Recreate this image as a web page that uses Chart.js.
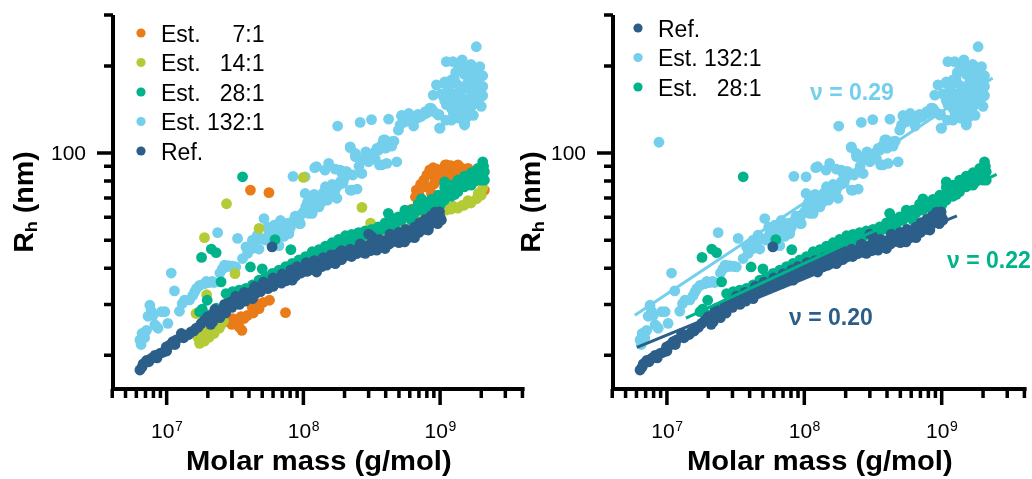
<!DOCTYPE html>
<html>
<head>
<meta charset="utf-8">
<script src="https://cdn.jsdelivr.net/npm/chart.js@4.4.1/dist/chart.umd.min.js"></script>
<style>
  body { margin: 0; background: #fff; }
  #wrap { position: relative; width: 1032px; height: 479px; overflow: hidden; }
  canvas { position: absolute; top: 0; }
</style>
</head>
<body>
<div id="wrap">
  <canvas id="leftChart" width="530" height="479" style="left:0"></canvas>
  <canvas id="rightChart" width="516" height="479" style="left:516px"></canvas>
</div>
<script>
// Data: [molar mass (g/mol), Rh (nm)]
const refData = [
  [6.37e6,17.8],[6.73e6,18.7],[7.12e6,19.2],[7.7e6,19.5],[8.2e6,20.0],[8.9e6,20.3],[9.4e6,20.5],[9.94e6,21.4],
  [1.05e7,21.7],[1.11e7,22.3],[1.175e7,22.6],[1.28e7,23.8],[1.39e7,23.5],[1.51e7,24.1],[1.64e7,24.8],[1.79e7,25.8],
  [1.89e7,26.4],[2.0e7,27.2],[2.17e7,27.5],[2.36e7,27.9],[2.57e7,28.6],[2.8e7,30.2],[2.95e7,30.6],[3.12e7,31.0],
  [3.3e7,30.6],[3.59e7,31.4],[3.9e7,32.3],[4.24e7,33.2],[4.6e7,33.6],[5.02e7,34.5],[5.3e7,35.0],[5.77e7,35.4],
  [6.27e7,35.9],[6.63e7,36.8],[7.2e7,37.3],[7.84e7,37.8],[8.5e7,38.8],[9.27e7,39.4],[1.02e8,40.4],[1.1e8,39.4],
  [1.22e8,41.0],[1.3e8,41.5],[1.42e8,42.1],[1.53e8,42.6],[1.67e8,43.2],[1.81e8,45.0],[1.97e8,43.8],[2.14e8,45.0],
  [2.33e8,45.6],[2.53e8,46.8],[2.75e8,47.4],[2.99e8,48.0],[3.17e8,51.4],[3.44e8,46.2],[3.74e8,48.7],[4.07e8,50.0],
  [4.42e8,51.4],[4.81e8,50.7],[5.23e8,52.0],[5.69e8,52.7],[6.18e8,52.7],[6.72e8,54.2],[7.31e8,55.6],[7.95e8,57.1],
  [8.65e8,57.9],[9.4e8,60.2],[9.9e8,62.6],[1.022e9,58.7],[5.9e7,47.4],[1.71e8,41.5],[2.83e8,45.0],[3.96e8,46.8],
  [5.5e8,49.3],[8.2e8,54.2],[1.25e8,38.8],[8.3e7,36.4],[4.24e7,31.4],[2.17e7,26.1],[1.0e9,60.0],[6.5e8,51.0],[7.7e8,54.5],
  [2.1e7,25.6],[2.45e7,27.0],[2.7e7,28.0],[3.0e7,29.3],[3.4e7,30.0],[3.75e7,30.8],[4.1e7,31.9],[4.45e7,32.6],
  [4.85e7,33.2],[5.5e7,34.0],[6.0e7,34.6],[6.9e7,35.5],[7.5e7,36.2],[8.0e7,37.5],[8.8e7,37.6],[9.6e7,38.5],
  [1.06e8,39.0],[1.16e8,40.2],[1.36e8,40.5],[1.48e8,41.0],[1.6e8,41.8],[1.75e8,42.2],[1.9e8,42.8],[2.05e8,44.5],
  [2.25e8,43.9],[2.45e8,44.9],[2.65e8,45.5],[2.9e8,46.2],[3.1e8,46.0],[3.3e8,47.5],[3.6e8,47.3],[3.85e8,48.0],
  [4.25e8,48.5],[4.6e8,49.5],[5.0e8,49.0],[5.4e8,50.5],[5.9e8,51.0],[6.4e8,53.0],[7.0e8,53.2],[7.6e8,56.0],
  [8.3e8,56.0],[9.0e8,58.5],[9.6e8,57.0],
  [2.25e7,28.8],[2.65e7,30.0],[3.2e7,32.0],[3.7e7,33.0],[4.4e7,34.6],[5.1e7,35.8],[6.0e7,37.0],[7.0e7,38.2],
  [8.1e7,39.5],[9.0e7,40.5],[1.05e8,41.8],[1.2e8,42.5],[1.4e8,43.5],[1.6e8,44.5],[1.9e8,46.0],[2.2e8,46.6],
  [2.6e8,48.5],[3.3e8,49.0],[3.0e8,52.5],[3.6e8,50.3],[4.3e8,52.5],[5.0e8,53.2],[5.6e8,54.5],[6.5e8,55.5],
  [7.1e8,57.5],[7.8e8,59.0],[8.5e8,60.5],[9.2e8,62.5],
  [6.6e6,18.2],[7.4e6,19.0],[8.5e6,19.6],[1.0e7,20.7],[1.15e7,21.8],[1.33e7,23.0],[1.45e7,23.6],[1.58e7,24.3],[1.7e7,25.0]
];

const est28Data = [
  [3.59e7,82.8],[1.8e7,43.6],[2.12e7,46.6],[2.3e7,45.3],[4.1e7,40.4],[5.0e7,39.8],[8.1e7,46.4],[2.5e7,35.9],
  [1.98e7,31.0],[1.82e7,28.9],[6.2e7,50.2],
  [2.72e7,32.7],[3.04e7,33.2],[3.39e7,33.6],[3.8e7,34.1],[4.24e7,35.0],[4.74e7,36.4],[5.3e7,37.4],[5.93e7,38.4],
  [6.63e7,39.4],[7.42e7,40.5],[8.29e7,41.6],[9.27e7,42.7],[1.037e8,43.9],[1.16e8,45.6],[1.3e8,46.4],[1.45e8,47.7],
  [1.62e8,49.0],[1.81e8,50.3],[2.03e8,51.8],[2.26e8,52.4],[2.53e8,53.1],[2.83e8,53.8],[3.17e8,54.5],[3.54e8,55.6],
  [3.96e8,57.4],[4.42e8,59.4],[4.95e8,60.2],[5.53e8,61.9],[6.18e8,63.5],[6.9e8,66.6],[7.73e8,67.8],[8.65e8,69.2],
  [9.67e8,71.5],[1.08e9,76.1],[1.21e9,77.5],[1.35e9,80.6],[1.51e9,83.3],[1.69e9,85.5],[1.89e9,88.5],[2.05e9,93.3],
  [2.11e9,86.2],[2.11e9,80.6],
  [3.04e7,31.0],[4.24e7,32.7],[5.93e7,35.9],[8.29e7,38.8],[1.16e8,42.1],[1.62e8,45.6],[2.26e8,48.6],[3.17e8,50.6],
  [4.42e8,54.2],[6.18e8,58.7],[8.65e8,63.5],[1.08e9,68.8],[1.35e9,73.5],[1.69e9,77.5],[2.0e9,80.6],[1.89e9,82.8],
  [1.51e9,76.5],[1.21e9,70.9],[1.74e7,28.3],[2.0e7,27.6],[2.3e7,29.1],
  [4.18e8,61.9],[5.53e8,63.5],[7.3e8,69.5],[1.08e9,79.5],
  [2.85e7,31.8],[3.2e7,32.3],[3.6e7,33.0],[4.0e7,33.8],[4.5e7,34.6],[5.0e7,35.7],[5.6e7,36.8],[6.3e7,37.8],
  [7.0e7,38.6],[7.8e7,39.8],[8.8e7,40.8],[9.8e7,41.8],[1.1e8,43.2],[1.23e8,44.2],[1.37e8,45.5],[1.53e8,46.5],
  [1.72e8,47.8],[1.92e8,49.0],[2.14e8,50.0],[2.4e8,50.8],[2.68e8,51.5],[3.0e8,52.4],[3.35e8,53.0],[3.75e8,54.5],
  [4.2e8,56.0],[4.7e8,57.0],[5.2e8,58.5],[5.85e8,60.5],[6.5e8,62.0],[7.3e8,63.5],[8.2e8,66.0],[9.2e8,68.0],
  [1.02e9,70.5],[1.14e9,73.5],[1.28e9,76.0],[1.43e9,79.0],[1.6e9,81.0],[1.79e9,84.0],[1.95e9,86.0],[2.08e9,90.0],
  [1.28e9,72.0],[1.6e9,79.0],[1.0e9,66.0],[1.79e9,80.0]
];

const est14Data = [
  [1.0e8,82.4],[2.74e7,66.8],[1.89e7,51.0],[2.68e8,64.9],[4.74e7,54.9],[3.16e7,38.3],[1.96e7,32.4],
  [1.74e7,22.0],[1.89e7,22.4],[2.05e7,23.1],[2.22e7,23.8],[2.43e7,24.8],[1.69e7,23.8],[1.64e7,27.9],[1.86e7,26.4],
  [2.36e7,26.0],[2.17e7,25.1],[1.8e7,24.5],[1.95e7,25.5],
  [1.7e7,23.0],[1.78e7,22.6],[1.85e7,23.2],[2.0e7,24.2],[2.1e7,24.0],[2.3e7,25.0],[2.5e7,25.5],[1.75e7,25.3],
  [1.9e7,27.0],[2.6e7,26.3],
  [1.1e9,63.5],[1.35e9,64.5],[1.68e9,67.2],[2.0e9,71.5],[2.05e9,75.7],[1.5e9,66.0],
  [6.5e8,59.0],[8.0e8,61.0],[1.2e9,64.0],[1.25e9,65.5],[1.45e9,66.0],[1.6e9,68.5],[1.85e9,69.5],[1.9e9,72.5],
  [5.3e7,35.9],[9.27e7,40.4],[1.62e8,45.0],[2.83e8,50.0],[4.95e8,54.2],[7.7e8,60.2],[9.67e8,61.9],[3.0e7,30.6],
  [4.0e7,33.5],[7.0e7,38.0],[1.3e8,43.0],[2.2e8,48.0],[3.8e8,52.0],[6.2e8,57.5],[3.1e8,57.3],[4.6e8,54.2]
];

const est7Data = [
  [4.1e7,74.5],[5.6e7,73.0],[7.4e7,28.1],[5.65e7,31.0],
  [3.13e7,25.8],[3.55e7,24.4],[3.68e7,26.8],[4.22e7,29.4],[4.74e7,29.0],[3.3e7,25.5],[2.9e7,26.0],[3.04e7,26.8],
  [3.4e7,25.0],[3.9e7,27.5],[4.3e7,28.0],[3.5e7,27.2],[4.6e7,30.2],[5.1e7,30.5],[3.0e7,25.6],
  [8.9e8,89.0],[1.09e9,91.0],[1.28e9,89.6],[1.42e9,89.0],[6.7e8,74.5],[7.6e8,80.6],[9.1e8,82.6],[6.92e8,68.8],
  [2.11e9,74.5],[7.8e8,76.5],[9.67e8,80.6],[1.21e9,85.0],[1.51e9,86.2],[1.89e9,80.6],[8.65e8,72.5],[1.0e9,86.0],[1.15e9,88.0],
  [7.2e8,78.0],[8.0e8,84.0],[8.4e8,87.5],[9.5e8,88.0],[1.05e9,84.0],[1.12e9,91.0],[1.2e9,90.5],[1.3e9,86.0],
  [1.35e9,91.0],[1.45e9,85.0],[1.6e9,88.5],[1.7e9,85.5],[1.8e9,83.0],[2.0e9,80.0],[7.0e8,72.0],[6.6e8,70.5],
  [9.0e8,78.0],[1.15e9,82.0],
  [9.27e7,41.5],[1.62e8,47.5],[2.83e8,50.6],[4.95e8,55.6],[6.2e8,64.0],[6.0e7,38.0],[1.2e8,44.5],[2.2e8,49.0],[3.7e8,53.0]
];

const est132Data = [
  [6.37e6,22.6],[6.6e6,23.8],[7.12e6,24.4],[7.53e6,29.8],[7.96e6,27.5],[8.2e6,25.5],[8.65e6,24.8],[9.15e6,28.3],
  [9.7e6,28.3],[1.02e7,25.8],[1.08e7,38.5],[1.14e7,33.4],[1.24e7,28.4],[1.35e7,31.0],[1.47e7,31.1],[1.6e7,33.1],
  [1.74e7,34.9],[1.89e7,35.4],[2.05e7,35.7],[2.22e7,35.7],[2.36e7,53.1],[2.55e7,39.7],[2.72e7,40.4],[2.95e7,40.6],
  [3.2e7,40.4],[3.3e7,50.7],[3.59e7,43.2],[3.8e7,47.4],[4.24e7,46.8],[4.6e7,52.0],[5.15e7,59.4],[5.3e7,50.0],
  [5.6e7,52.7],[6.1e7,56.3],[6.63e7,47.9],[7.0e7,54.2],[7.6e7,57.1],[8.4e7,83.1],[8.29e7,57.9],[9.0e7,59.4],
  [9.55e7,61.1],[1.03e8,72.5],[1.1e8,70.2],[1.22e8,68.8],[1.25e8,89.7],[1.3e8,70.6],[1.44e8,69.8],[1.53e8,92.1],
  [1.62e8,77.9],[1.76e8,69.8],[1.78e8,124],[1.86e8,79.6],[1.92e8,85.0],[2.03e8,86.2],[2.2e8,105],[2.26e8,74.5],
  [2.4e8,97.1],[2.6e8,127.6],[2.68e8,85.0],[2.86e8,101],[3.0e8,93.3],[3.15e8,130.5],[3.35e8,95.6],[3.54e8,102.4],
  [3.85e8,111],[4.07e8,92.1],[4.2e8,131],[4.43e8,109.5],[4.82e8,93.3],[4.95e8,120],[5.23e8,134],[5.7e8,131.8],
  [6.18e8,128.3],[6.72e8,131.8],[7.31e8,134],[7.95e8,137.3],[8.65e8,142.6],[8.9e8,158.6],[9.67e8,135.4],[9.9e8,122],
  [1.08e9,174],[1.08e9,152],[1.14e9,160],[1.21e9,142.6],[1.24e9,207],[1.31e9,174],[1.35e9,202],[1.39e9,131.8],
  [1.43e9,164],[1.51e9,125],[1.51e9,187],[1.6e9,199],[1.67e9,202],[1.69e9,156],[1.74e9,179],[1.79e9,170],
  [1.84e9,233],[1.89e9,183],[1.95e9,199],[1.98e9,164],[2.0e9,145],[2.05e9,170],[1.47e9,152],[1.21e9,179],[1.02e9,160],
  [5.93e7,54.2],[7.4e7,55.6],[9.27e7,58.6],[7.84e7,52.7],[1.1e8,61.9],[1.3e8,65.2],[1.5e8,68.8],[1.62e8,72.5],
  [1.76e8,76.5],[4.24e7,50.0],[4.74e7,46.6],[2.4e8,99.7],[3.1e8,94.6],[3.45e8,103.8],[3.6e8,91.0],[4.2e8,108],
  [1.03e8,82.8],[1.44e8,87.3],[1.86e8,87.3],[1.45e8,76.5],[1.92e8,78.5],[2.2e8,74.5],[2.47e8,75.1],[1.16e8,70.6],
  [1.04e8,65.2],[1.16e8,61.9],[9.27e7,57.1],
  [1.11e9,207],[1.35e9,204],[1.69e9,202],[1.47e9,194],[1.89e9,183],[9.4e8,172],[1.08e9,176],[1.27e9,181],
  [1.6e9,176],[2.0e9,167],[1.05e9,158],[1.24e9,160],[1.39e9,156],[1.6e9,154],[1.89e9,160],[1.11e9,147],
  [1.27e9,141],[1.56e9,143],[9.8e8,136],[1.21e9,130],[1.51e9,126],[1.0e9,122],[8.4e8,143],[7.8e8,139],
  [6.9e8,136],[6.2e8,134],[5.9e8,137],[5.24e8,135],[6.4e8,124],[3.96e8,111],[4.6e8,110],[4.43e8,105.7],
  [2.2e8,104.4],[2.4e8,99],[3.74e8,91.0],[1.21e8,89],[1.71e8,88],[2.08e8,86.2],[1.95e8,79],
  [1.3e9,190],[1.45e9,210],[1.55e9,195],[1.7e9,190],[1.8e9,195],[1.9e9,175],[2.05e9,185],[1.62e9,167],
  [1.75e9,158],[1.85e9,150],[1.4e9,170],[1.3e9,160],[1.15e9,168],[1.2e9,150],[1.35e9,148],[1.45e9,140],
  [1.7e9,145],[1.95e9,155],[2.05e9,158],[1.25e9,137],[1.55e9,132],[1.75e9,135],[1.1e9,130],
  [3.9e7,45.0],[4.4e7,48.5],[5.0e7,50.5],[5.5e7,55.5],[6.4e7,53.5],[6.8e7,58.5],[7.2e7,51.5],[8.0e7,55.0],
  [8.7e7,60.5],[9.5e7,57.0],[1.0e8,62.5],[1.07e8,67.5],[1.13e8,64.0],[1.2e8,72.0],[1.35e8,67.5],[1.4e8,73.0],
  [1.57e8,71.0],[1.7e8,74.0],[2.0e8,82.0],[2.3e8,84.0],[2.55e8,90.0],[2.75e8,95.0],[2.95e8,98.0],[3.25e8,100.0],
  [3.7e8,106.0],[4.0e8,104.0],[5.1e8,125.0],[5.5e8,128.0],[6.0e8,131.0],[7.0e8,133.0],[7.6e8,136.5],[8.2e8,140.0],[9.0e8,139.0],
  [6.5e6,21.8],[6.9e6,23.0],[7.3e6,27.3],[7.7e6,28.5],[8.4e6,25.2],[1.3e7,30.2],[1.55e7,32.2],[1.65e7,34.0],
  [1.95e7,36.0],[2.15e7,36.0],[2.45e7,38.5],[2.65e7,41.0],[2.85e7,40.8],[3.05e7,40.7],
  [8.75e6,109]
];

// Power-law fit lines (end points)
const fit132 = [[5.84e6,27.5],[2.35e9,181.8]];
const fit28 = [[1.375e7,26.9],[2.51e9,84.4]];
const fitRef = [[6.05e6,21.3],[1.29e9,60.7]];
const fitLabels = ['\u03BD = 0.29', '\u03BD = 0.22', '\u03BD = 0.20'];

// Axis ticks
const xMin = 4.05e6, xMax = 4.15e9, yMin = 15.3, yMax = 300;
const xMajorTicks = [1e7, 1e8, 1e9];
const xExponents = ['7', '8', '9'];
const xMinorTicks = [4e6,5e6,6e6,7e6,8e6,9e6,2e7,3e7,4e7,5e7,6e7,7e7,8e7,9e7,
                     2e8,3e8,4e8,5e8,6e8,7e8,8e8,9e8,2e9,3e9,4e9];
const yMajorTicks = [100];
const yMinorTicks = [20,30,40,50,60,70,80,90,200,300];

const COL = {
  ref: '#2b5f89',
  est7: '#e97b18',
  est14: '#b5cb36',
  est28: '#00b38b',
  est132: '#73cfeb'
};

const FONT = '"Liberation Sans", Arial, sans-serif';

function pts(arr) {
  return arr.map(p => ({ x: p[0], y: p[1] }));
}

function scatterSet(label, arr, color) {
  return {
    label: label,
    data: pts(arr),
    backgroundColor: color,
    borderWidth: 0,
    pointRadius: 5.4,
    pointHoverRadius: 5.4
  };
}

function fitSet(arr, color) {
  return {
    label: 'fit',
    data: pts(arr),
    showLine: true,
    borderColor: color,
    borderWidth: 3,
    pointRadius: 0,
    fill: false
  };
}

// axes, ticks, titles and legend drawn on top using the chart scales
const decoPlugin = {
  id: 'deco',
  afterDraw(chart, args, o) {
    const ctx = chart.ctx;
    const a = chart.chartArea;
    const xs = chart.scales.x, ys = chart.scales.y;
    ctx.save();
    ctx.strokeStyle = '#000';
    ctx.lineWidth = 4;

    // axis lines
    ctx.beginPath();
    ctx.moveTo(a.left, a.top);
    ctx.lineTo(a.left, a.bottom + 2);
    ctx.moveTo(a.left - 2, a.bottom);
    ctx.lineTo(a.right, a.bottom);
    ctx.stroke();

    // y ticks
    ctx.lineWidth = 3.5;
    ctx.beginPath();
    yMinorTicks.forEach(v => {
      const y = ys.getPixelForValue(v);
      ctx.moveTo(a.left - 9, y); ctx.lineTo(a.left, y);
    });
    yMajorTicks.forEach(v => {
      const y = ys.getPixelForValue(v);
      ctx.moveTo(a.left - 16, y); ctx.lineTo(a.left, y);
    });
    // x ticks
    xMinorTicks.forEach(v => {
      const x = xs.getPixelForValue(v);
      ctx.moveTo(x, a.bottom); ctx.lineTo(x, a.bottom + 9);
    });
    xMajorTicks.forEach(v => {
      const x = xs.getPixelForValue(v);
      ctx.moveTo(x, a.bottom); ctx.lineTo(x, a.bottom + 16);
    });
    ctx.stroke();

    // tick labels
    ctx.fillStyle = '#000';
    ctx.font = '21px ' + FONT;
    ctx.textAlign = 'right';
    ctx.textBaseline = 'middle';
    yMajorTicks.forEach(v => {
      ctx.fillText(String(v), a.left - 27, ys.getPixelForValue(v) + 1);
    });
    ctx.textAlign = 'left';
    ctx.textBaseline = 'alphabetic';
    xMajorTicks.forEach((v, i) => {
      const x = xs.getPixelForValue(v);
      ctx.font = '21px ' + FONT;
      const w1 = ctx.measureText('10').width;
      ctx.font = '14px ' + FONT;
      const w2 = ctx.measureText(xExponents[i]).width;
      const x0 = x - (w1 + w2) / 2;
      ctx.font = '21px ' + FONT;
      ctx.fillText('10', x0, 438);
      ctx.font = '14px ' + FONT;
      ctx.fillText(xExponents[i], x0 + w1 + 0.5, 431);
    });

    // x title
    ctx.save();
    ctx.translate((a.left + a.right) / 2, 470);
    ctx.scale(1.08, 1);
    ctx.font = 'bold 27px ' + FONT;
    ctx.textAlign = 'center';
    ctx.fillText('Molar mass (g/mol)', 0, 0);
    ctx.restore();

    // y title  R_h (nm)
    ctx.save();
    ctx.translate(o.yTitleX, 202);
    ctx.rotate(-Math.PI / 2);
    ctx.scale(1.06, 1);
    ctx.textAlign = 'left';
    ctx.font = 'bold 27px ' + FONT;
    const wR = ctx.measureText('R').width;
    const wRest = ctx.measureText(' (nm)').width;
    ctx.font = 'bold 17px ' + FONT;
    const wh = ctx.measureText('h').width;
    let tx = -(wR + wh + wRest) / 2;
    ctx.font = 'bold 27px ' + FONT;
    ctx.fillText('R', tx, 0);
    tx += wR;
    ctx.font = 'bold 17px ' + FONT;
    ctx.fillText('h', tx, 4);
    tx += wh;
    ctx.font = 'bold 27px ' + FONT;
    ctx.fillText(' (nm)', tx, 0);
    ctx.restore();

    // legend
    const lg = o.legend;
    if (lg.background) {
      ctx.fillStyle = '#fff';
      ctx.fillRect(lg.x - 12, lg.y - 17, 140, lg.items.length * 29.5 + 4);
    }
    ctx.font = '23px ' + FONT;
    ctx.textAlign = 'left';
    lg.items.forEach((it, i) => {
      const y = lg.y + i * 29.5;
      ctx.fillStyle = it[1];
      ctx.beginPath();
      ctx.arc(lg.x, y, 4.6, 0, Math.PI * 2);
      ctx.fill();
      ctx.fillStyle = '#000';
      ctx.fillText(it[0], lg.x + 20, y + 8.5);
    });

    // fit labels
    if (o.notes) {
      ctx.font = 'bold 23px ' + FONT;
      o.notes.forEach(n => {
        ctx.fillStyle = n[1];
        ctx.fillText(n[0], n[2], n[3]);
      });
    }
    ctx.restore();
  }
};

function makeChart(id, datasets, yWidth, padRight, deco) {
  return new Chart(document.getElementById(id), {
    type: 'scatter',
    data: { datasets: datasets },
    options: {
      responsive: false,
      animation: false,
      devicePixelRatio: 1,
      layout: { padding: { top: 15, right: padRight, left: 0, bottom: 0 } },
      plugins: {
        legend: { display: false },
        tooltip: { enabled: false },
        deco: deco
      },
      scales: {
        x: {
          type: 'logarithmic',
          min: xMin, max: xMax,
          grid: { display: false, drawTicks: false },
          border: { display: false },
          ticks: { display: false },
          afterFit: s => { s.height = 90; }
        },
        y: {
          type: 'logarithmic',
          min: yMin, max: yMax,
          grid: { display: false, drawTicks: false },
          border: { display: false },
          ticks: { display: false },
          afterFit: s => { s.width = yWidth; }
        }
      }
    },
    plugins: [decoPlugin]
  });
}

const leftChart = makeChart('leftChart', [
  scatterSet('Ref.', refData, COL.ref),
  scatterSet('Est.   28:1', est28Data, COL.est28),
  scatterSet('Est.   14:1', est14Data, COL.est14),
  scatterSet('Est.     7:1', est7Data, COL.est7),
  scatterSet('Est. 132:1', est132Data, COL.est132)
], 113, 2, {
  yTitleX: 33,
  legend: {
    x: 141, y: 33, background: true,
    items: [
      ['Est.     7:1', COL.est7],
      ['Est.   14:1', COL.est14],
      ['Est.   28:1', COL.est28],
      ['Est. 132:1', COL.est132],
      ['Ref.', COL.ref]
    ]
  }
});

const rightChart = makeChart('rightChart', [
  fitSet(fit132, COL.est132),
  fitSet(fit28, COL.est28),
  fitSet(fitRef, COL.ref),
  scatterSet('Ref.', refData, COL.ref),
  scatterSet('Est.   28:1', est28Data, COL.est28),
  scatterSet('Est. 132:1', est132Data, COL.est132)
], 97, 4, {
  yTitleX: 24,
  legend: {
    x: 122, y: 28, background: false,
    items: [
      ['Ref.', COL.ref],
      ['Est. 132:1', COL.est132],
      ['Est.   28:1', COL.est28]
    ]
  },
  notes: [
    [fitLabels[0], COL.est132, 294, 100],
    [fitLabels[1], COL.est28, 431, 268],
    [fitLabels[2], COL.ref, 273, 325]
  ]
});
</script>
</body>
</html>
